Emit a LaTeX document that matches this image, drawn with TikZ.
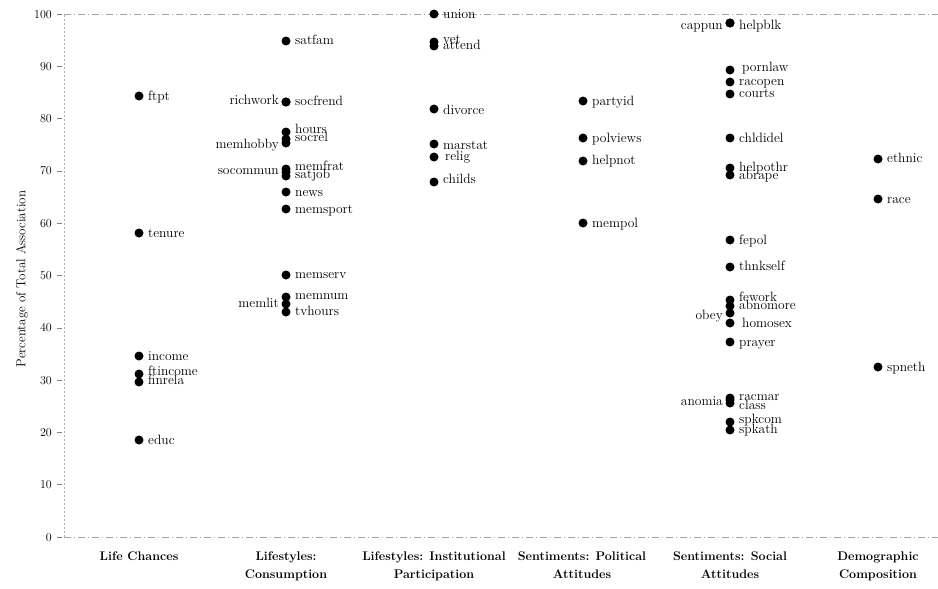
\documentclass[tikz,border=0pt]{standalone}
\usepackage{fontspec}
\begin{document}
\begin{tikzpicture}[x=1pt,y=-1pt,
  dot/.style={circle,fill=black,inner sep=0pt,minimum size=9pt},
  lab/.style={anchor=base west,inner sep=0pt,font=\fontsize{13.5}{14}\selectfont},
  llab/.style={anchor=base east,inner sep=0pt,font=\fontsize{13.5}{14}\selectfont},
  ticklab/.style={anchor=base east,inner sep=0pt,font=\fontsize{12}{13}\selectfont},
  cat/.style={anchor=north,align=center,inner sep=0pt,font=\bfseries\fontsize{12.5}{18}\selectfont},
  gridline/.style={black!35,line width=0.6pt,dash pattern=on 7pt off 3pt on 1pt off 3pt},
  axisline/.style={black!30,line width=0.6pt,dash pattern=on 2pt off 2pt},
  tickmark/.style={black!50,line width=0.6pt}]
\useasboundingbox (0,0) rectangle (938,589);
% frame
\coordinate (tl) at (64,14);
\coordinate (tr) at (938,14);
\coordinate (bl) at (64,537);
\coordinate (br) at (938,537);
\draw[gridline] (tl) -- (tr);
\draw[gridline] (bl) -- (br);
\draw[axisline] (bl) -- (tl);
% ticks
\foreach \v in {0,10,...,100}{
  \pgfmathsetmacro\yy{537-5.23*\v}
  \node[ticklab] (t\v) at (52,\yy+4) {\v};
  \coordinate (ta\v) at (57,\yy);
  \coordinate (tb\v) at (62,\yy);
  \draw[tickmark] (ta\v) -- (tb\v);
}
\node[rotate=90,font=\fontsize{13}{13}\selectfont] (ytitle) at (22,279) {Percentage of Total Association};
% points with right labels: name/x/y/label y/label x shift
\foreach \n/\x/\y/\ly/\s in {
  ftpt/139/96/96/0, tenure/139/233/233/0, income/139/356/356/0, ftincome/139/374/371/0, finrela/139/382/380/0, educ/139/440/440/0,
  satfam/286/41/41/0, socfrend/286/102/101/0, hours/286/132/129/0, socrel/286/139/137/0, memfrat/286/169/166/0, satjob/286/176/174/0,
  news/286/192/192/0, memsport/286/209/209/0, memserv/286/275/274/0, memnum/286/297/295/0, tvhours/286/312/311/0,
  union/434/14/14/0, vet/434/42/39/0, attend/434/46/45/0, divorce/434/109/110/0, marstat/434/144/145/0, relig/434/157/156/2, childs/434/182/179/0,
  partyid/583/101/101/0, polviews/583/138/138/0, helpnot/583/161/160/0, mempol/583/223/223/0,
  helpblk/730/23/25/0, pornlaw/730/70/67/3, racopen/730/82/81/0, courts/730/94/93/0, chldidel/730/138/138/0, helpothr/730/168/167/0, abrape/730/175/175/0,
  fepol/730/240/240/0, thnkself/730/267/266/0, fework/730/300/297/0, abnomore/730/306/305/0, homosex/730/323/323/3, prayer/730/342/342/0,
  racmar/730/398/396/0, class/730/403/405/0, spkcom/730/422/419/0, spkath/730/430/429/0,
  ethnic/878/159/158/0, race/878/199/199/0, spneth/878/367/367/0}{
  \node[dot] (d\n) at (\x,\y) {};
  \node[lab] (l\n) at (\x+9+\s,\ly+4) {\n};
}
% points with left labels
\foreach \n/\x/\y/\ly in {
  richwork/286/102/100, memhobby/286/143/144, socommun/286/172/170, memlit/286/304/303,
  cappun/730/23/25, obey/730/313/315, anomia/730/400/401}{
  \node[dot] (d\n) at (\x,\y) {};
  \node[llab] (l\n) at (\x-7,\ly+4) {\n};
}
% categories
\node[cat] (c1) at (139,552) {Life Chances};
\node[cat] (c2) at (286,552) {Lifestyles:\\Consumption};
\node[cat] (c3) at (434,552) {Lifestyles: Institutional\\Participation};
\node[cat] (c4) at (582,552) {Sentiments: Political\\Attitudes};
\node[cat] (c5) at (730,552) {Sentiments: Social\\Attitudes};
\node[cat] (c6) at (878,552) {Demographic\\Composition};
\end{tikzpicture}
\end{document}
